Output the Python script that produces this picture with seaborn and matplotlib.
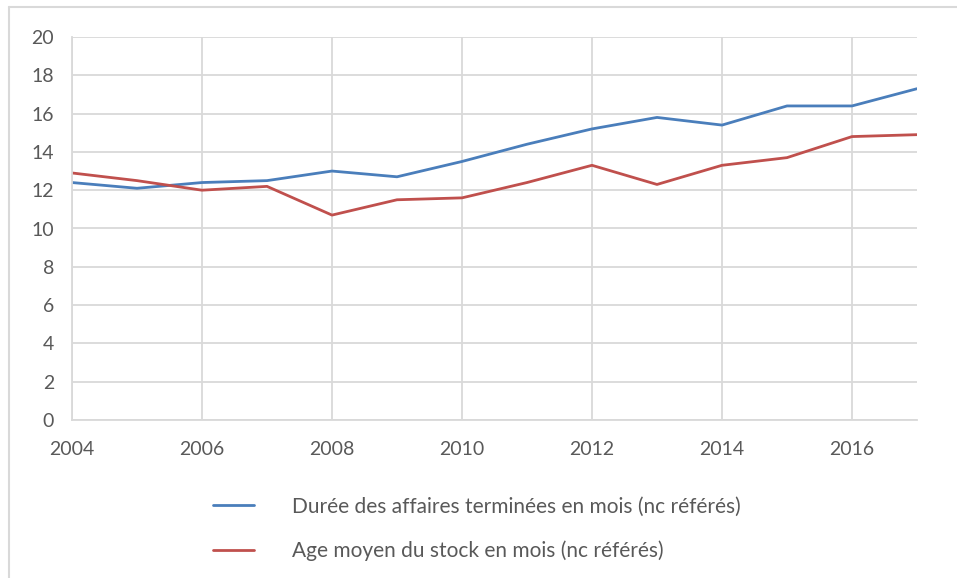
import pandas as pd
import matplotlib.pyplot as plt
import seaborn as sns
from matplotlib.lines import Line2D

years = list(range(2004, 2018))
duree = [12.4, 12.1, 12.4, 12.5, 13.0, 12.7, 13.5, 14.4, 15.2, 15.8, 15.4, 16.4, 16.4, 17.3]
age_stock = [12.9, 12.5, 12.0, 12.2, 10.7, 11.5, 11.6, 12.4, 13.3, 12.3, 13.3, 13.7, 14.8, 14.9]
series_names = ['Durée des affaires terminées en mois (nc référés)',
                'Age moyen du stock en mois (nc référés)']

df = pd.DataFrame({
    'annee': years * 2,
    'valeur': duree + age_stock,
    'serie': [series_names[0]] * len(years) + [series_names[1]] * len(years),
})

sns.set_style('white')
plt.rcParams['font.family'] = ['Lato', 'DejaVu Sans']

fig = plt.figure(figsize=(9.57, 5.78), dpi=100)
ax = fig.add_axes([72 / 957, 1 - 420 / 578, (917 - 72) / 957, (420 - 37) / 578])

sns.lineplot(data=df, x='annee', y='valeur', hue='serie', ax=ax,
             palette=['#4a7ebb', '#c0504d'], linewidth=2.0, legend=False)

ax.set_xlim(2004, 2017)
ax.set_ylim(0, 20)
ax.set_xticks(range(2004, 2017, 2))
ax.set_yticks(range(0, 21, 2))
ax.grid(True, color='#d9d9d9', linewidth=1.3)
ax.set_axisbelow(True)
for side in ['top', 'right']:
    ax.spines[side].set_visible(False)
for side in ['left', 'bottom']:
    ax.spines[side].set_color('#d9d9d9')
    ax.spines[side].set_linewidth(1.3)
ax.tick_params(axis='both', length=0, labelsize=14, colors='#595959')
ax.tick_params(axis='y', pad=13)
ax.tick_params(axis='x', pad=15)
ax.set_xlabel('')
ax.set_ylabel('')

handles = [Line2D([], [], color='#4a7ebb', linewidth=2.0),
           Line2D([], [], color='#c0504d', linewidth=2.0)]
fig.legend(handles, series_names, loc='upper left', bbox_to_anchor=(194 / 957, 1 - 478 / 578),
           frameon=False, fontsize=15, labelcolor='#595959', handlelength=2.0,
           handletextpad=1.8, labelspacing=1.15)

# outer chart frame
fig.add_artist(Line2D([9 / 957, 1], [1 - 7 / 578, 1 - 7 / 578], color='#d9d9d9', linewidth=1.5))
fig.add_artist(Line2D([9 / 957, 9 / 957], [0, 1 - 7 / 578], color='#d9d9d9', linewidth=1.5))

fig.savefig('out.png', dpi=100)
